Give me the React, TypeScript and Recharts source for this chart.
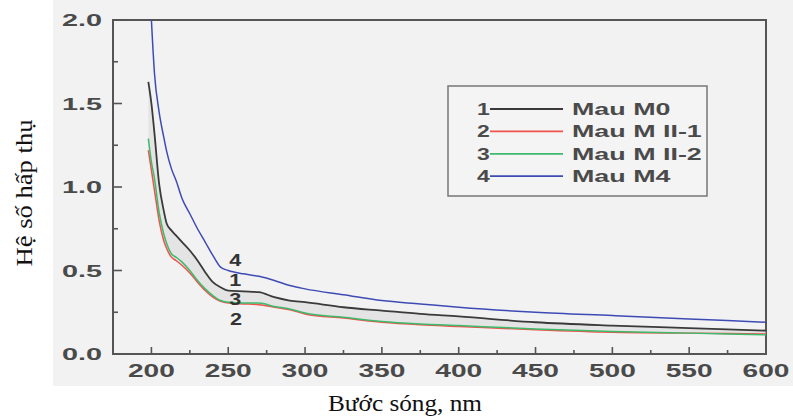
import {
  Area,
  ComposedChart,
  Legend,
  Line,
  ReferenceArea,
  ReferenceDot,
  XAxis,
  YAxis,
} from "recharts";

// wavelength, nm
const wavelengths = [
  198, 200, 202, 205, 208, 210, 213, 216, 220, 225, 230, 235, 240, 245, 250,
  260, 270, 280, 290, 300, 325, 350, 375, 400, 450, 500, 550, 600,
];

// absorbance
const m0 = [
  1.63, 1.5, 1.32, 1.02, 0.86, 0.78, 0.74, 0.71, 0.67, 0.62, 0.56, 0.49, 0.43,
  0.4, 0.38, 0.375, 0.37, 0.34, 0.32, 0.31, 0.28, 0.26, 0.24, 0.225, 0.19,
  0.17, 0.155, 0.14,
];
const mII1 = [
  1.22, 1.1, 0.98, 0.8, 0.68, 0.63, 0.58, 0.56, 0.53, 0.485, 0.43, 0.38, 0.34,
  0.315, 0.305, 0.3, 0.295, 0.28, 0.265, 0.24, 0.215, 0.19, 0.175, 0.165,
  0.145, 0.13, 0.125, 0.12,
];
const mII2 = [
  1.29, 1.15, 1.05, 0.85, 0.72, 0.66, 0.6, 0.58, 0.55, 0.5, 0.44, 0.39, 0.35,
  0.32, 0.31, 0.305, 0.305, 0.285, 0.27, 0.245, 0.22, 0.195, 0.18, 0.17, 0.15,
  0.135, 0.125, 0.115,
];
const m4 = [
  null, 2.0, 1.68, 1.45, 1.3, 1.21, 1.11, 1.04, 0.93, 0.84, 0.75, 0.67, 0.59,
  0.52, 0.5, 0.48, 0.465, 0.44, 0.41, 0.39, 0.355, 0.32, 0.3, 0.28, 0.25, 0.23,
  0.21, 0.19,
];

const xTicks = [200, 225, 250, 275, 300, 325, 350, 375, 400, 425, 450, 475, 500, 525, 550, 575, 600];
const yTicks = [0, 0.25, 0.5, 0.75, 1.0, 1.25, 1.5, 1.75, 2.0];

const series = [
  { key: "m0", num: "1", name: "Mau M0", color: "#3a3a3a" },
  { key: "mII1", num: "2", name: "Mau M II-1", color: "#f0524c" },
  { key: "mII2", num: "3", name: "Mau M II-2", color: "#3dba6c" },
  { key: "m4", num: "4", name: "Mau M4", color: "#3f4bb5" },
];

// curve numbers written next to the curves (data coords)
const curveTags = [
  { tag: "4", x: 254.5, y: 0.563 },
  { tag: "1", x: 254.5, y: 0.443 },
  { tag: "3", x: 254.5, y: 0.33 },
  { tag: "2", x: 255, y: 0.21 },
];

const data = wavelengths.map((w, i) => ({
  w,
  m0: m0[i],
  mII1: mII1[i],
  mII2: mII2[i],
  m4: m4[i],
}));

const AXIS = "#555";
const TEXT = "#4a4a4a";
const SANS = "'Liberation Sans', Arial, sans-serif";
const SERIF = "'Liberation Serif', 'Times New Roman', serif";

const XTick = (props: any) => {
  const { x, y, payload } = props;
  const v = payload.value;
  const major = v % 50 === 0;
  return (
    <g>
      <line x1={x} y1={y} x2={x} y2={y - (major ? 7 : 4)} stroke={AXIS} strokeWidth={1.6} />
      {major && (
        <text
          transform={`translate(${x},${y + 23}) scale(1.48,1)`}
          textAnchor="middle"
          fontFamily={SANS}
          fontWeight="bold"
          fontSize={19}
          fill={TEXT}
        >
          {v}
        </text>
      )}
    </g>
  );
};

const YTick = (props: any) => {
  const { x, y, payload } = props;
  const v = payload.value;
  const major = Math.abs((v * 2) % 1) < 1e-6;
  return (
    <g>
      <line x1={x} y1={y} x2={x + (major ? 9 : 5)} y2={y} stroke={AXIS} strokeWidth={1.6} />
      {major && (
        <text
          transform={`translate(${x - 11},${y + 6}) scale(1.8,1)`}
          textAnchor="end"
          fontFamily={SANS}
          fontWeight="bold"
          fontSize={16}
          fill={TEXT}
        >
          {v.toFixed(1)}
        </text>
      )}
    </g>
  );
};

const LegendBox = () => (
  <svg width={261} height={112} style={{ display: "block" }}>
    <rect x={1} y={1} width={259} height={110} fill="#f4f4f4" stroke="#777" strokeWidth={1.5} />
    {series.map((s, i) => {
      const cy = 24 + i * 22.4;
      return (
        <g key={s.key}>
          <text
            transform={`translate(30,${cy + 6}) scale(1.35,1)`}
            fontFamily={SANS}
            fontWeight="bold"
            fontSize={17}
            fill={TEXT}
          >
            {s.num}
          </text>
          <line x1={43} y1={cy} x2={116} y2={cy} stroke={s.color} strokeWidth={1.8} />
          <text
            transform={`translate(125,${cy + 6}) scale(1.58,1)`}
            fontFamily={SANS}
            fontWeight="bold"
            fontSize={17}
            fill={TEXT}
          >
            {s.name}
          </text>
        </g>
      );
    })}
  </svg>
);

export default function App() {
  return (
    <div style={{ position: "absolute", left: 0, top: 0, width: 793, height: 420, background: "#fff" }}>
      <div style={{ position: "absolute", left: 53, top: 0, width: 740, height: 386, background: "#f2f2f2" }} />
      <div style={{ position: "absolute", left: 0, top: 0 }}>
        <ComposedChart width={793} height={420} data={data} margin={{ top: 20, right: 27, bottom: 0, left: 0 }}>
          <XAxis
            dataKey="w"
            type="number"
            domain={[175, 600]}
            ticks={xTicks}
            allowDataOverflow
            height={66}
            tickSize={0}
            tickMargin={0}
            tickLine={false}
            axisLine={{ stroke: AXIS, strokeWidth: 2 }}
            tick={<XTick />}
            interval={0}
            label={{
              content: (p: any) => (
                <text
                  x={p.viewBox.x + p.viewBox.width / 2 - 34.5}
                  y={p.viewBox.y + 57}
                  textAnchor="middle"
                  fontFamily={SERIF}
                  fontSize={23}
                  textLength={154}
                  lengthAdjust="spacingAndGlyphs"
                  fill="#111"
                >
                  Bước sóng, nm
                </text>
              ),
            }}
          />
          <YAxis
            type="number"
            domain={[0, 2]}
            ticks={yTicks}
            allowDataOverflow
            width={113}
            tickSize={0}
            tickMargin={0}
            tickLine={false}
            axisLine={{ stroke: AXIS, strokeWidth: 2 }}
            tick={<YTick />}
            interval={0}
            label={{
              content: (p: any) => (
                <text
                  transform={`translate(${p.viewBox.x + 32},${p.viewBox.y + p.viewBox.height / 2 + 6}) rotate(-90)`}
                  textAnchor="middle"
                  fontFamily={SERIF}
                  fontSize={23}
                  textLength={147}
                  lengthAdjust="spacingAndGlyphs"
                  fill="#111"
                >
                  Hệ số hấp thụ
                </text>
              ),
            }}
          />
          <ReferenceArea x1={175} x2={600} y1={0} y2={2} fill="none" stroke={AXIS} strokeWidth={2} />
          <Area
            type="monotone"
            dataKey={(d: any) => [d.mII1, d.m0]}
            stroke="none"
            fill="#d9d9d9"
            fillOpacity={0.55}
            isAnimationActive={false}
            legendType="none"
          />
          {series.map((s) => (
            <Line
              key={s.key}
              type="monotone"
              dataKey={s.key}
              stroke={s.color}
              strokeWidth={s.key === "m0" ? 1.8 : 1.5}
              dot={false}
              connectNulls
              isAnimationActive={false}
            />
          ))}
          {curveTags.map((t) => (
            <ReferenceDot
              key={t.tag}
              x={t.x}
              y={t.y}
              r={0}
              fill="none"
              stroke="none"
              label={{
                content: (p: any) => (
                  <text
                    transform={`translate(${p.viewBox.x},${p.viewBox.y + 6}) scale(1.35,1)`}
                    textAnchor="middle"
                    fontFamily={SANS}
                    fontWeight="bold"
                    fontSize={16}
                    fill="#333"
                  >
                    {t.tag}
                  </text>
                ),
              }}
            />
          ))}
          <Legend
            layout="vertical"
            align="center"
            verticalAlign="middle"
            content={<LegendBox />}
            wrapperStyle={{ position: "absolute", left: 447, top: 85, width: 261, height: 112 }}
          />
        </ComposedChart>
      </div>
    </div>
  );
}
